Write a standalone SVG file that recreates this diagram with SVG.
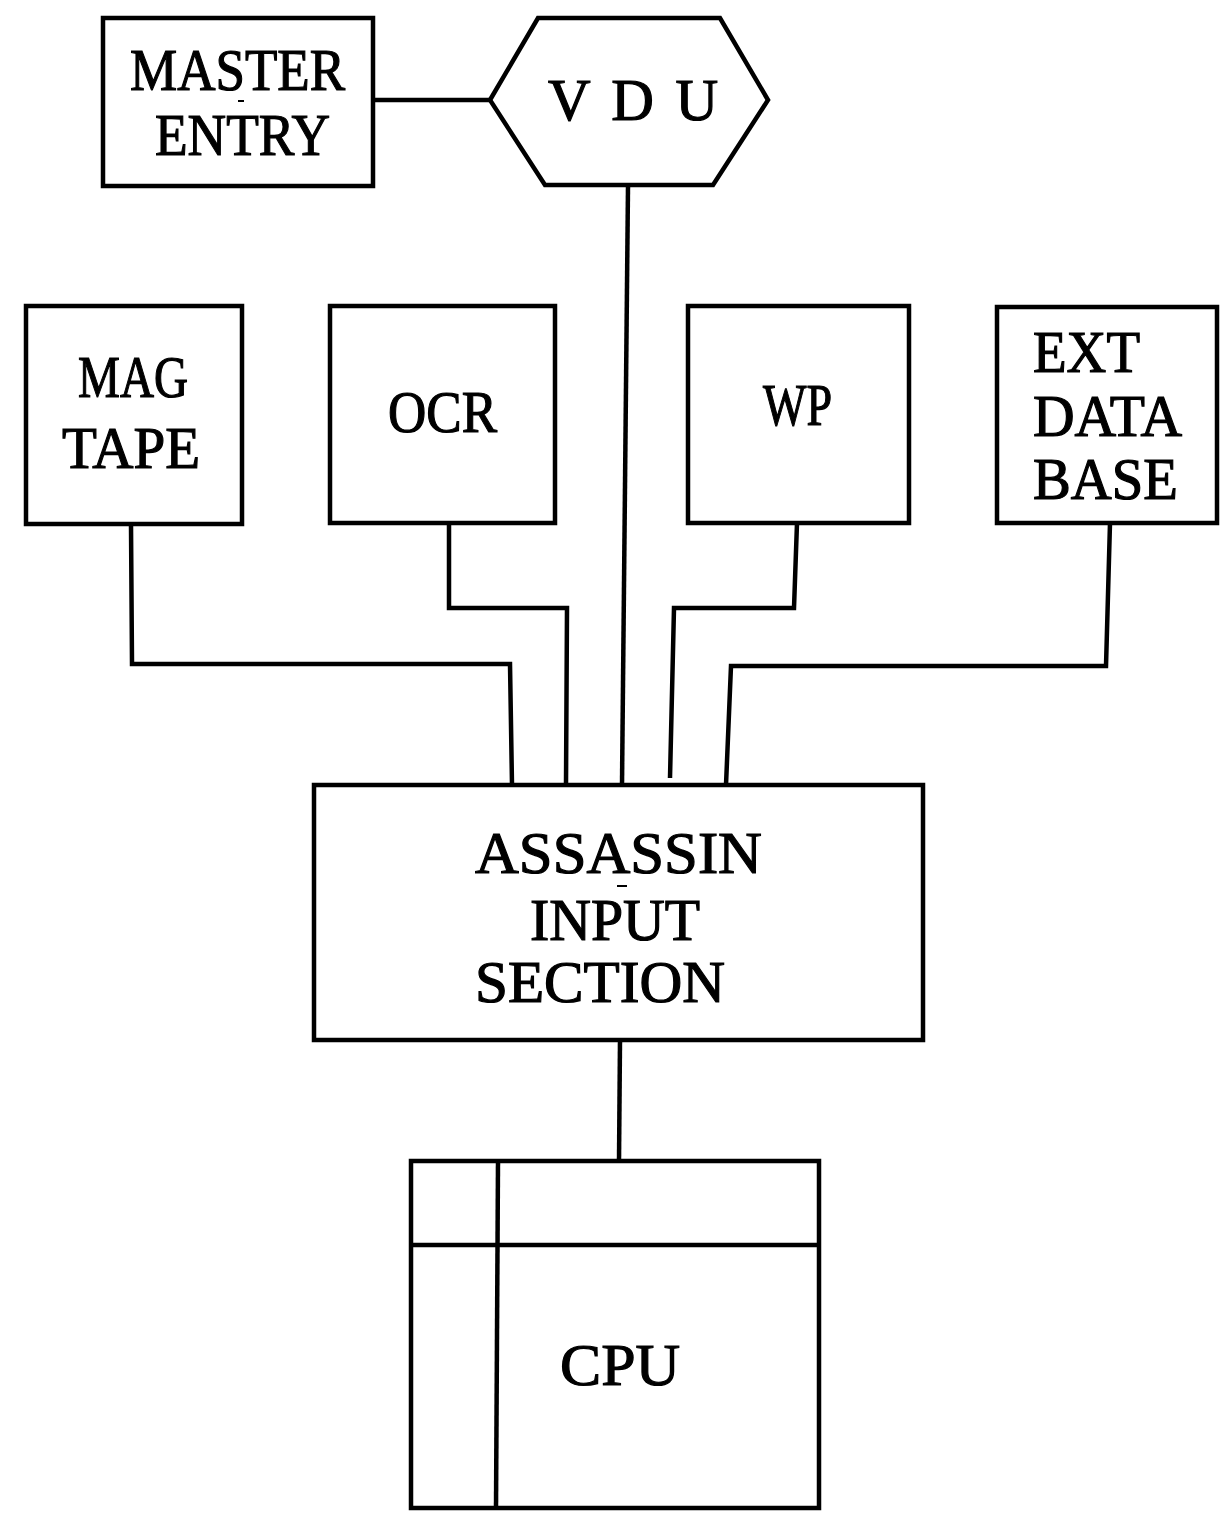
<svg xmlns="http://www.w3.org/2000/svg" width="1221" height="1513" viewBox="0 0 1221 1513">
<style>
.box{fill:none;stroke:#000;stroke-width:4.5;stroke-linejoin:miter}
.ln{fill:none;stroke:#000;stroke-width:4.5;stroke-linejoin:miter}
.t{font-family:"Liberation Serif","Times New Roman",serif;font-size:59px;fill:#000;stroke:#000;stroke-width:1.2}
</style>
<rect width="1221" height="1513" fill="#fff"/>
<g id="connectors">
<path class="ln" d="M373,100 L492,100"/>
<path class="ln" d="M628,186 L622,785"/>
<path class="ln" d="M131,525 L132,664 L510,664 L512,785"/>
<path class="ln" d="M449,523 L449,608 L567,608 L566,785"/>
<path class="ln" d="M797,523 L794,608 L674,608 L670,778"/>
<path class="ln" d="M1110,523 L1106,666 L731,666 L726,785"/>
<path class="ln" d="M620,1040 L619,1161"/>
</g>
<g id="master-entry">
<rect class="box" x="103" y="18" width="270" height="168"/>
<text class="t" x="130" y="90" textLength="215" lengthAdjust="spacingAndGlyphs">MASTER</text>
<line x1="238" y1="101" x2="244" y2="101" stroke="#000" stroke-width="2"/>
<text class="t" x="155" y="155" textLength="175" lengthAdjust="spacingAndGlyphs">ENTRY</text>
</g>
<g id="vdu">
<polygon class="box" points="490,100 538,18 720,18 768,100 713,185 545,185"/>
<text class="t" x="548" y="120" textLength="170" lengthAdjust="spacing">V D U</text>
</g>
<g id="mag-tape">
<rect class="box" x="26" y="306" width="216" height="218"/>
<text class="t" x="78" y="397" textLength="110" lengthAdjust="spacingAndGlyphs">MAG</text>
<text class="t" x="62" y="468" textLength="138" lengthAdjust="spacingAndGlyphs">TAPE</text>
</g>
<g id="ocr">
<rect class="box" x="330" y="306" width="225" height="217"/>
<text class="t" x="388" y="432" textLength="109" lengthAdjust="spacingAndGlyphs">OCR</text>
</g>
<g id="wp">
<rect class="box" x="688" y="306" width="221" height="217"/>
<text class="t" x="763" y="425" textLength="69" lengthAdjust="spacingAndGlyphs">WP</text>
</g>
<g id="ext-data-base">
<rect class="box" x="997" y="307" width="220" height="216"/>
<text class="t" x="1033" y="372" textLength="107" lengthAdjust="spacingAndGlyphs">EXT</text>
<text class="t" x="1033" y="436" textLength="149" lengthAdjust="spacingAndGlyphs">DATA</text>
<text class="t" x="1033" y="499" textLength="145" lengthAdjust="spacingAndGlyphs">BASE</text>
</g>
<g id="assassin-input-section">
<rect class="box" x="314" y="785" width="609" height="255"/>
<text class="t" x="475" y="873" textLength="287" lengthAdjust="spacingAndGlyphs">ASSASSIN</text>
<line x1="617" y1="886" x2="627" y2="886" stroke="#000" stroke-width="2"/>
<text class="t" x="530" y="940" textLength="170" lengthAdjust="spacingAndGlyphs">INPUT</text>
<text class="t" x="475" y="1002" textLength="250" lengthAdjust="spacingAndGlyphs">SECTION</text>
</g>
<g id="cpu">
<rect class="box" x="411" y="1161" width="408" height="347"/>
<line class="ln" x1="411" y1="1245" x2="819" y2="1245"/>
<line class="ln" x1="498" y1="1161" x2="496" y2="1508"/>
<text class="t" x="560" y="1385" textLength="120" lengthAdjust="spacingAndGlyphs">CPU</text>
</g>
</svg>
